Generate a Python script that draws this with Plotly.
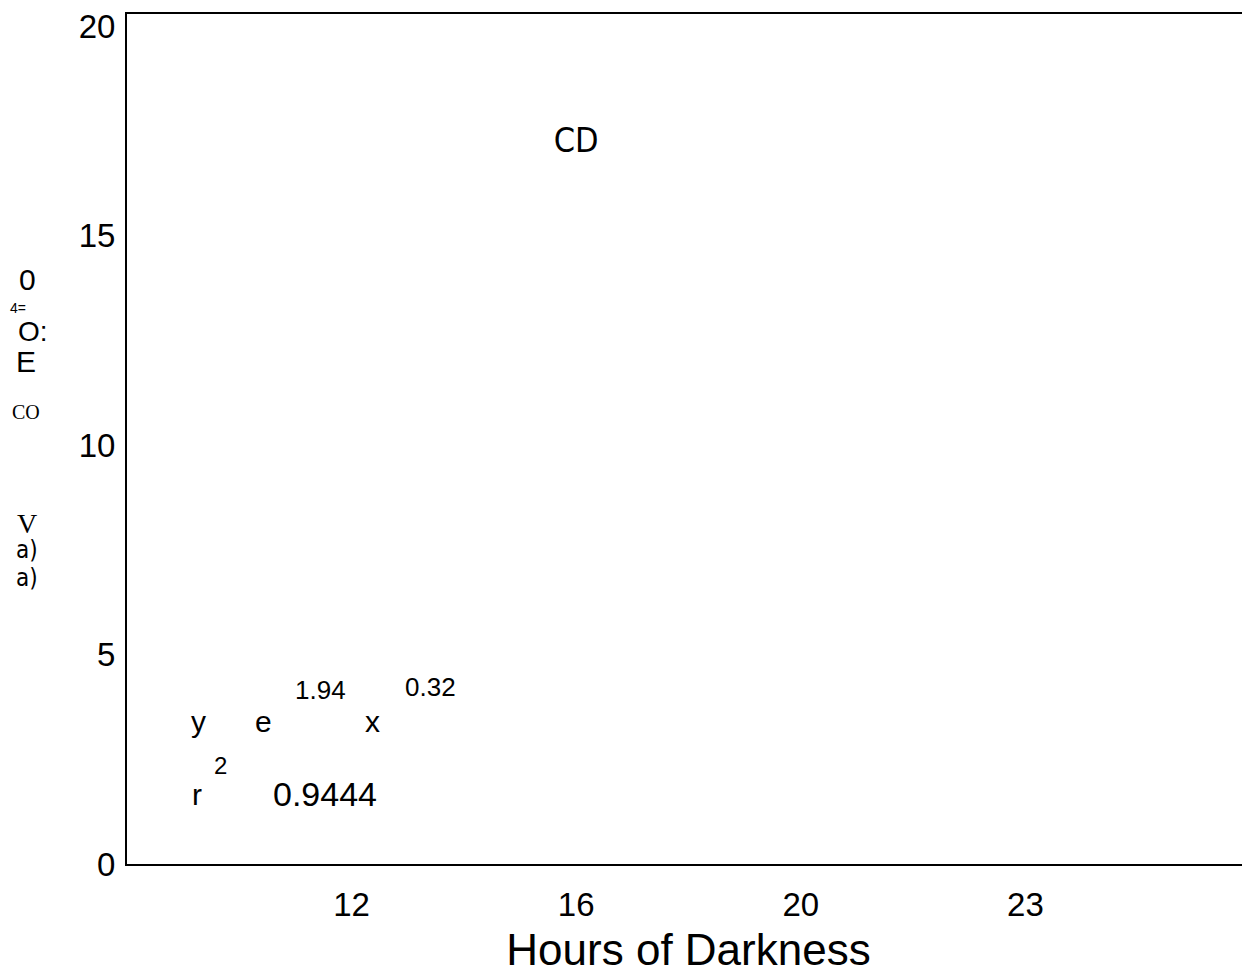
import plotly.graph_objects as go

# Data
x_tick_vals = [12, 16, 20, 24]
x_tick_text = ["12", "16", "20", "23"]
y_tick_vals = [0, 5, 10, 15, 20]
point_x = [16]
point_y = [17.2]
point_text = ["CD"]

# page body has an 8px default margin
OFF = 8
W, H = 1250 - OFF, 974 - OFF
L, R, T, B = 127 - OFF, 0, 12 - OFF, 109
PW = W - L - R
PH = H - T - B
BOTTOM = OFF + H - B  # screen pixel of plot bottom


def px(xp):
    return (xp - OFF - L) / PW


def py(yp):
    return (BOTTOM - yp) / PH


fig = go.Figure()
fig.add_trace(go.Scatter(
    x=point_x, y=point_y, text=point_text, mode="text",
    textfont=dict(family="Liberation Sans Narrow, DejaVu Sans Condensed", size=34, color="black"),
    hoverinfo="skip", showlegend=False,
))

sans = "Liberation Sans, Arial, sans-serif"
narrow = "Liberation Sans Narrow, DejaVu Sans Condensed, sans-serif"
serif = "Liberation Serif, serif"

notes = [
    # y-axis garbled label pieces
    ("0", 27, 278, sans, 30),
    ("4=", 18, 307, sans, 14),
    ("O:", 33, 331, sans, 28),
    ("E", 26, 361, sans, 30),
    ("CO", 26, 411, serif, 20),
    ("V", 27, 523, serif, 28),
    ("a)", 27, 550, narrow, 24),
    ("a)", 27, 578, narrow, 24),
    # equation
    ("y", 198, 722, sans, 30),
    ("e", 263, 722, sans, 30),
    ("x", 372, 722, sans, 30),
    ("1.94", 320, 690, sans, 26),
    ("0.32", 430, 687, sans, 26),
    ("r", 197, 795, sans, 30),
    ("2", 220, 766, sans, 24),
    ("0.9444", 325, 795, sans, 34),
]
for txt, xp, yp, fam, sz in notes:
    fig.add_annotation(
        text=txt, x=px(xp), y=py(yp), xref="paper", yref="paper",
        showarrow=False, xanchor="center", yanchor="middle",
        font=dict(family=fam, size=sz, color="black"),
    )

fig.update_layout(
    width=W, height=H,
    margin=dict(l=L, r=R, t=T, b=B),
    paper_bgcolor="white", plot_bgcolor="white",
    font=dict(family=sans, color="black"),
    xaxis=dict(
        range=[8, 28], tickvals=x_tick_vals, ticktext=x_tick_text,
        showgrid=False, zeroline=False, showline=True, linecolor="black",
        linewidth=2, mirror=True, ticks="", ticklabelstandoff=10,
        tickfont=dict(size=33, family=sans, color="black"),
        title=dict(text="Hours of Darkness", font=dict(size=44, family=sans, color="black"), standoff=21),
    ),
    yaxis=dict(
        range=[0, 20.3], tickvals=y_tick_vals,
        showgrid=False, zeroline=False, showline=True, linecolor="black",
        linewidth=2, ticks="", ticklabelstandoff=3, ticklabeloverflow="allow",
        tickfont=dict(size=33, family=sans, color="black"),
    ),
)

fig.write_html("out.html")
